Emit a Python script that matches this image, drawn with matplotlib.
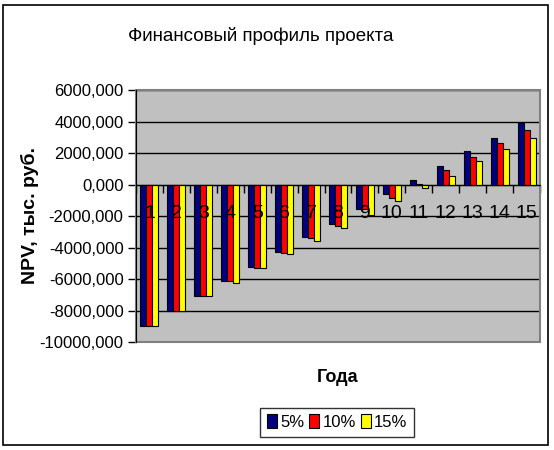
import numpy as np
import matplotlib.pyplot as plt
from matplotlib.patches import Rectangle
from matplotlib.ticker import FixedLocator, FuncFormatter

plt.rcParams['font.family'] = ['Liberation Sans', 'DejaVu Sans']

years = list(range(1, 16))
npv_5 = [-9000, -8000, -7100, -6100, -5250, -4290, -3310, -2480, -1530, -575, 275, 1210, 2120, 2990, 3950]
npv_10 = [-9000, -8000, -7100, -6100, -5310, -4330, -3380, -2630, -1550, -830, 60, 910, 1780, 2630, 3500]
npv_15 = [-9000, -8000, -7100, -6240, -5310, -4400, -3570, -2740, -1910, -1020, -190, 570, 1480, 2250, 2990]
series = [('5%', npv_5, '#000080'), ('10%', npv_10, '#ff0000'), ('15%', npv_15, '#ffff00')]

fig = plt.figure(figsize=(5.54, 4.5), dpi=100)
ax = fig.add_axes([136 / 554, 1 - 342 / 450, 404 / 554, 251.7 / 450])
ax.set_facecolor('#c0c0c0')

x = np.arange(len(years))
w = 1 / 4.5
for i, (name, vals, col) in enumerate(series):
    ax.bar(x + (i - 1) * w, vals, width=w, color=col, edgecolor='black', linewidth=0.8, label=name, zorder=3)

ax.set_xlim(-0.5, len(years) - 0.5)
ax.set_ylim(-10000, 6000)
ax.set_yticks(np.arange(-10000, 6001, 2000))
ax.yaxis.set_major_formatter(FuncFormatter(lambda v, p: f"{v:.3f}".replace('.', ',')))
ax.tick_params(axis='y', length=6, width=1, labelsize=12, pad=3)
ax.yaxis.grid(True, color='black', linewidth=1)
ax.set_axisbelow(True)

# category axis sits on zero, ticks between categories
ax.spines['bottom'].set_position(('data', 0))
ax.spines['bottom'].set_zorder(4)
ax.xaxis.set_major_locator(FixedLocator(np.arange(-0.5, len(years), 1)))
ax.xaxis.set_major_formatter(FuncFormatter(lambda v, p: ''))
ax.tick_params(axis='x', which='major', length=6, width=1, direction='out')
for xi, yr in zip(x, years):
    ax.annotate(str(yr), xy=(xi, 0), xytext=(0, -21), textcoords='offset points',
                ha='center', va='center', fontsize=14, zorder=6)

for s in ['top', 'right']:
    ax.spines[s].set_visible(False)
ax.add_patch(Rectangle((0, 0), 1, 1, transform=ax.transAxes, fill=False,
                       edgecolor='#808080', linewidth=1.5, zorder=2, clip_on=False))
ax.spines['left'].set_zorder(4)

fig.text(30 / 554, 1 - 216 / 450, 'NPV, тыс. руб.', rotation=90, ha='center', va='center',
         fontsize=14, fontweight='bold')
fig.text(338 / 554, 1 - 377 / 450, 'Года', ha='center', va='center', fontsize=13, fontweight='bold')
fig.text(261 / 554, 1 - 36 / 450, 'Финансовый профиль проекта', ha='center', va='center', fontsize=13.5)

leg = fig.legend(loc='center', bbox_to_anchor=(337 / 554, 1 - 422 / 450), ncol=3, fontsize=12,
                 frameon=True, fancybox=False, edgecolor='black', handlelength=0.6, handleheight=0.9,
                 handletextpad=0.2, columnspacing=0.3, borderpad=0.4, borderaxespad=0)
leg.get_frame().set_linewidth(1)

fig.patches.append(Rectangle((3 / 554, 1 - 445 / 450), 545 / 554, 440 / 450, transform=fig.transFigure,
                             fill=False, edgecolor='black', linewidth=1.2))

fig.savefig('out.png', dpi=100)
